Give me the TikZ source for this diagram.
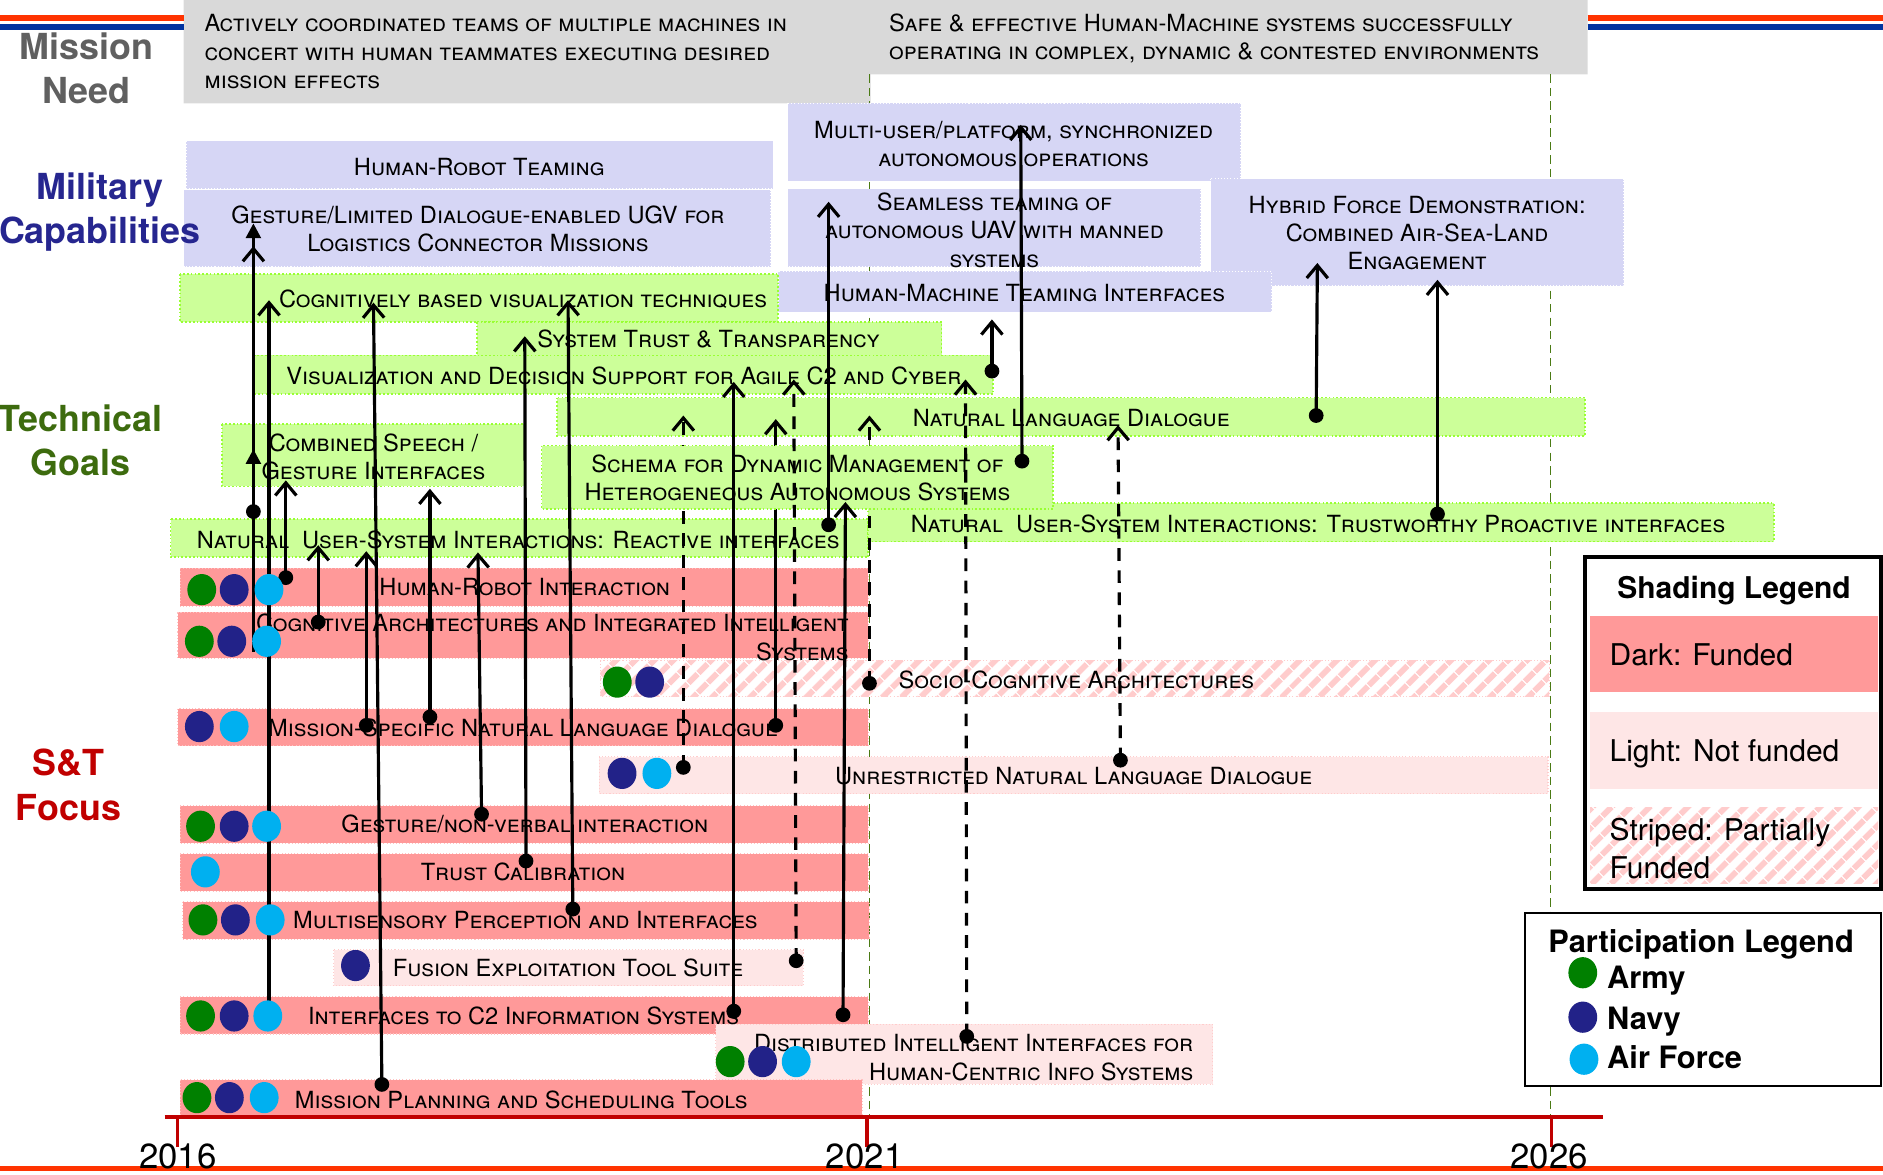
\documentclass[tikz,border=0pt]{standalone}
\usepackage{fontspec}
\setmainfont{TeX Gyre Heros}
\usetikzlibrary{arrows.meta,patterns.meta}

\definecolor{needgray}{HTML}{D9D9D9}
\definecolor{needtext}{HTML}{606060}
\definecolor{capfill}{HTML}{D6D6F5}
\definecolor{captext}{HTML}{26268F}
\definecolor{goalfill}{HTML}{CCFF99}
\definecolor{goalline}{HTML}{99FF33}
\definecolor{goaltext}{HTML}{3D6B0E}
\definecolor{fundfill}{HTML}{FF9999}
\definecolor{nofundfill}{HTML}{FEE6E6}
\definecolor{stripe}{HTML}{FFCCCC}
\definecolor{sttext}{HTML}{C00000}
\definecolor{armygreen}{HTML}{008000}
\definecolor{navyblue}{HTML}{222288}
\definecolor{afblue}{HTML}{00B0F0}
\definecolor{topred}{HTML}{FF3300}
\definecolor{topblue}{HTML}{0033A0}
\definecolor{yearline}{HTML}{4A7A14}

\begin{document}
\begin{tikzpicture}[x=0.02cm,y=-0.02cm]
\tikzset{txt/.style = {font=\fontsize{11.2}{13.4}\selectfont\scshape, inner sep=0pt, align=center, text depth=0pt}}
\tikzset{rowlabel/.style = {font=\fontsize{17}{21}\selectfont\bfseries, inner sep=0pt, align=center, text depth=0pt}}
\tikzset{legtxt/.style = {font=\fontsize{14.2}{18}\selectfont, inner sep=0pt, align=left, anchor=west, text depth=0pt}}
\tikzset{milcap/.style = {fill=capfill, draw=white, densely dotted, line width=0.5pt}}
\tikzset{goal/.style = {fill=goalfill, draw=goalline, densely dotted, line width=0.8pt}}
\tikzset{funded/.style = {fill=fundfill, draw=fundfill!60!white, densely dotted, line width=0.5pt}}
\tikzset{notfunded/.style = {fill=nofundfill, draw=stripe, densely dotted, line width=0.5pt}}
\tikzset{stripes/.style = {postaction={pattern={Lines[angle=45,distance=6.4pt,line width=3pt]}, pattern color=stripe}}}
\tikzset{partfunded/.style = {fill=white, draw=stripe, densely dotted, line width=0.5pt, stripes}}
\tikzset{link/.style = {line width=1.5pt, -{Straight Barb[length=6pt,width=10pt]}}}
\tikzset{dlink/.style = {link, dash pattern=on 6pt off 4.5pt}}
\tikzset{flink/.style = {line width=1.5pt, -{Triangle[length=7pt,width=7pt]}}}
\tikzset{yeardash/.style = {yearline, line width=0.8pt, dash pattern=on 4pt off 2.4pt}}
\tikzset{army/.style = {fill=armygreen}, navy/.style = {fill=navyblue}, airforce/.style = {fill=afblue}}

\useasboundingbox (0,0) rectangle (1568,978);

% mission need band and frame lines
\fill[needgray] (153,0) -- (1322,0) -- (1322,62) -- (725,62) -- (725,86) -- (153,86) -- cycle;
\draw[topred, line width=2.7pt] (0,15) -- (153,15) (1322,15) -- (1568,15);
\draw[topblue, line width=2.8pt] (0,22.5) -- (153,22.5) (1322,22.5) -- (1568,22.5);
\draw[yeardash] (724,62) -- (724,930);
\draw[yeardash] (1291,62) -- (1291,930);
\draw[topred, line width=2.4pt] (0,973) -- (1568,973);

\node[txt, align=left, anchor=west] (need1) at (170,43) {Actively coordinated teams of multiple machines in\\concert with human teammates executing desired\\mission effects};
\node[txt, align=left, anchor=west] (need2) at (740,30.5) {Safe \& effective Human-Machine systems successfully\\operating in complex, dynamic \& contested environments};

% military capabilities
\path[milcap] (155,117) rectangle (644,157);
\path[milcap] (153,158) rectangle (642,222);
\path[milcap] (656,86) rectangle (1033,151);
\path[milcap] (1008,149) rectangle (1352,238);
\path[milcap] (656,157) rectangle (1000,222);
\path[milcap] (648,226) rectangle (1059,260);
\node[txt] (hrt) at (399,139) {Human-Robot Teaming};
\node[txt] (ugv) at (398,190.5) {Gesture/Limited Dialogue-enabled UGV for\\Logistics Connector Missions};
\node[txt] (multi) at (844,120) {Multi-user/platform, synchronized\\autonomous operations};
\node[txt] (hybrid) at (1180,194) {Hybrid Force Demonstration:\\Combined Air-Sea-Land\\Engagement};
\node[txt] (seamless) at (828,191.5) {Seamless teaming of\\autonomous UAV with manned\\systems};
\node[txt] (hmt) at (853,244) {Human-Machine Teaming Interfaces};

% row labels
\node[rowlabel, needtext] (lneed) at (72,56.5) {Mission\\Need};
\node[rowlabel, captext] (lcap) at (83,173.5) {Military\\Capabilities};
\node[rowlabel, goaltext] (lgoal) at (67,366.5) {Technical\\Goals};
\node[rowlabel, sttext] (lfocus) at (57,653.5) {S\&T\\Focus};

% technical goals
\path[goal] (150,228) rectangle (648,268);
\path[goal] (397,268) rectangle (784,296);
\path[goal] (212,296) rectangle (827,328);
\path[goal] (464,331) rectangle (1320,363);
\path[goal] (185,353) rectangle (437,405);
\path[goal] (142,432) rectangle (723,464);
\path[goal] (723,419) rectangle (1477,451);
\node[txt] (cogvis) at (435.5,249) {Cognitively based visualization techniques};
\node[txt] (trust) at (590,282) {System Trust \& Transparency};
\node[txt] (visdec) at (519.5,313) {Visualization and Decision Support for Agile C2 and Cyber};
\node[txt] (nld) at (892,348) {Natural Language Dialogue};
\node[txt] (speech) at (311,380) {Combined Speech /\\Gesture Interfaces};
\node[txt] (reactive) at (431.5,449) {Natural~ User-System Interactions: Reactive interfaces};
\node[txt] (proactive) at (1097.5,436) {Natural~ User-System Interactions: Trustworthy Proactive interfaces};

% S&T focus
\path[funded] (150,473) rectangle (723,505);
\path[funded] (148,510) rectangle (723,548);
\path[partfunded] (500,550) rectangle (1290,580);
\path[funded] (148,590) rectangle (723,621);
\path[notfunded] (499,630) rectangle (1289,661);
\path[funded] (150,671) rectangle (723,702);
\path[funded] (150,711) rectangle (723,742);
\path[funded] (152,751) rectangle (724,782);
\path[notfunded] (278,791) rectangle (669,821);
\path[funded] (150,830) rectangle (723,861);
\path[notfunded] (596,853) rectangle (1010,903);
\path[funded] (150,899) rectangle (718,930);
\node[txt] (hri) at (437,489) {Human-Robot Interaction};
\node[txt, align=right, anchor=east] (cogarch) at (707,530.5) {Cognitive Architectures and Integrated Intelligent\\Systems};
\node[txt, anchor=west] (socio) at (748,566) {Socio-Cognitive Architectures};
\node[txt] (msnld) at (435.5,606) {Mission-Specific Natural Language Dialogue};
\node[txt] (unnld) at (894,646) {Unrestricted Natural Language Dialogue};
\node[txt] (gesture) at (437,686) {Gesture/non-verbal interaction};
\node[txt] (calib) at (435.5,726) {Trust Calibration};
\node[txt] (multis) at (437.5,766) {Multisensory Perception and Interfaces};
\node[txt] (fusion) at (473,806) {Fusion Exploitation Tool Suite};
\node[txt] (ctwo) at (436,846) {Interfaces to C2 Information Systems};
\node[txt, align=right, anchor=east] (distrib) at (994,880.5) {Distributed Intelligent Interfaces for\\Human-Centric Info Systems};
\node[txt] (planning) at (434,916) {Mission Planning and Scheduling Tools};

% links hidden behind the schema box
\foreach \n/\xa/\ya/\xb/\yb/\s in {u1/569/639/569/346/dlink, u2/646/604/646/349/link, u3/724/569/724/346/dlink}{
  \coordinate (src\n) at (\xa,\ya);
  \coordinate (tip\n) at (\xb,\yb);
  \draw[\s] (src\n) -- (tip\n);
  \fill (src\n) circle[radius=3.5pt];
}

\path[goal] (451,371) rectangle (877,424);
\node[txt] (schema) at (664,398) {Schema for Dynamic Management of\\Heterogeneous Autonomous Systems};

% links
\foreach \n/\xa/\ya/\xb/\yb/\s in {1/238/481/238/400/link, 2/265/518/265/454/link, 3/305/604/305/459/link,
  4/318/903/311/252/link, 5/358/597/358/407/link, 6/401/678/398/460/link, 7/438/717/437/280/link,
  8/477/757/473/250/link, 9/611/842/611/318/link, 10/690/437/690/168/link, 11/702/845/704/418/link,
  12/826/309/826/266/link, 13/851/384/850/104/link, 14/1096/346/1097/219/link, 15/1197/428/1197/233/link,
  16/211/426/211/205/link, 17/224/846/224/250/link, 18/663/800/661/316/dlink, 19/805/863/804/316/dlink,
  20/933/633/931/354/dlink}{
  \coordinate (src\n) at (\xa,\ya);
  \coordinate (tip\n) at (\xb,\yb);
  \draw[\s] (src\n) -- (tip\n);
  \fill (src\n) circle[radius=3.5pt];
}
\coordinate (srcf1) at (211,543);
\coordinate (tipf1) at (211,374);
\coordinate (srcf2) at (211,353);
\coordinate (tipf2) at (211,186);
\draw[flink] (srcf1) -- (tipf1);
\draw[flink] (srcf2) -- (tipf2);

% participation dots
\foreach \c/\x/\y in {army/168/491, navy/195/491, airforce/224/491,
  army/166/534, navy/193/534, airforce/222/534, army/514/568, navy/541/568,
  navy/166/605, airforce/195/605, navy/518/644, airforce/547/644,
  army/167/688, navy/195/688, airforce/222/688, airforce/171/726,
  army/169/766, navy/196/766, airforce/225/766, navy/296/804,
  army/167/846, navy/195/846, airforce/223/846, army/608/884, navy/635/884, airforce/663/884,
  army/164/914, navy/191/914, airforce/220/914}
  \fill[\c] (\x,\y) ellipse[x radius=0.24cm, y radius=0.26cm];

% time line
\draw[sttext, line width=1.6pt] (137,930) -- (1335,930);
\foreach \x in {148,722,1292}
  \draw[sttext, line width=1.6pt] (\x,930) -- (\x,955);
\node[font=\fontsize{16.5}{18}\selectfont, inner sep=0pt] (y2016) at (148,963) {2016};
\node[font=\fontsize{16.5}{18}\selectfont, inner sep=0pt] (y2021) at (720,963) {2021};
\node[font=\fontsize{16.5}{18}\selectfont, inner sep=0pt] (y2026) at (1290,963) {2026};

% shading legend
\fill[white] (1320,464) rectangle (1566,740);
\fill[fundfill] (1324,513) rectangle (1564,576);
\fill[nofundfill] (1324,593) rectangle (1564,657);
\path[fill=white, stripes] (1324,672) rectangle (1564,736);
\draw[line width=1.9pt] (1320,464) rectangle (1566,740);
\node[legtxt, anchor=center, font=\fontsize{14.2}{18}\selectfont\bfseries] (shadetitle) at (1444,489) {Shading Legend};
\node[legtxt] (ldark) at (1340,545) {Dark: Funded};
\node[legtxt] (llight) at (1340,625) {Light: Not funded};
\node[legtxt] (lstripe) at (1340,706) {Striped: Partially\\Funded};

% participation legend
\draw[line width=1pt, fill=white] (1270,760) rectangle (1566,904);
\node[legtxt, font=\fontsize{14.6}{18}\selectfont\bfseries] (parttitle) at (1289,784) {Participation Legend};
\fill[army] (1318,810) ellipse[x radius=0.24cm, y radius=0.26cm];
\fill[navy] (1318,847) ellipse[x radius=0.24cm, y radius=0.26cm];
\fill[airforce] (1319,882) ellipse[x radius=0.24cm, y radius=0.26cm];
\node[legtxt, font=\fontsize{14.6}{18}\selectfont\bfseries] (larmy) at (1338,814) {Army};
\node[legtxt, font=\fontsize{14.6}{18}\selectfont\bfseries] (lnavy) at (1338,848) {Navy};
\node[legtxt, font=\fontsize{14.6}{18}\selectfont\bfseries] (laf) at (1338,880) {Air Force};
\end{tikzpicture}
\end{document}
